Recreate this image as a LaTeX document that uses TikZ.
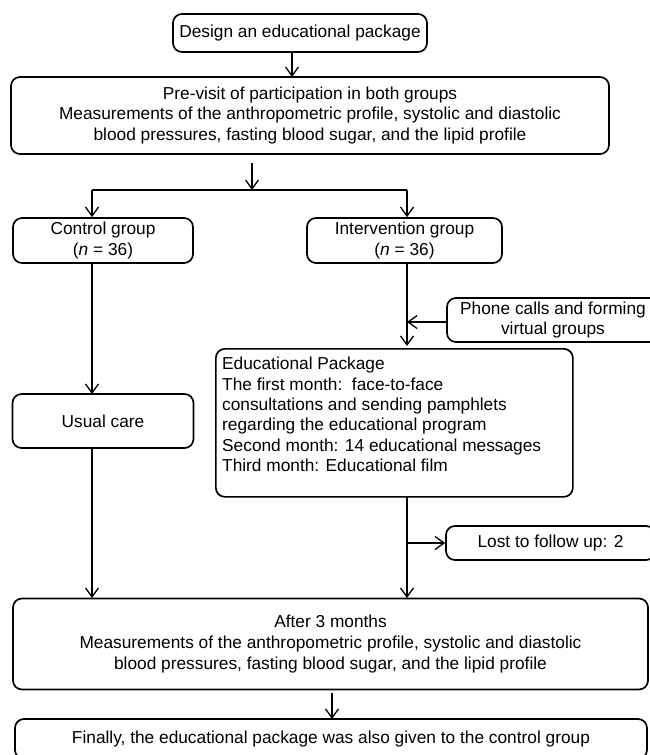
\documentclass[tikz,border=0pt]{standalone}
\usepackage{fontspec}
\setmainfont{Liberation Sans}
\usetikzlibrary{arrows.meta}
\begin{document}
\begin{tikzpicture}[x=1pt,y=-1pt,
  box/.style={draw, line width=1.7pt, rounded corners=9pt, inner sep=0pt, align=center,
    font=\fontsize{17.3}{20.6}\selectfont},
  arr/.style={line width=1.3pt, -{Straight Barb[length=9pt,width=13pt,line width=1.3pt]}},
  ln/.style={line width=1.3pt}]
\useasboundingbox (0,0) rectangle (650,755);
\node[box, minimum width=254pt, minimum height=38pt] (design) at (300,33) {Design an educational package};
\node[box, minimum width=598pt, minimum height=77pt] (pre) at (310,115.5) {Pre-visit of participation in both groups\\Measurements of the anthropometric profile, systolic and diastolic\\blood pressures, fasting blood sugar, and the lipid profile};
\node[box, minimum width=180pt, minimum height=45pt, font=\fontsize{17.3}{21.5}\selectfont] (control) at (103,240.5) {Control group\\(\textit{n} = 36)};
\node[box, minimum width=195pt, minimum height=45pt, font=\fontsize{17.3}{21.5}\selectfont] (interv) at (404.5,240.5) {Intervention group\\(\textit{n} = 36)};
\node[box, minimum width=181pt, minimum height=54pt] (usual) at (103,421) {Usual care};
\node[box, minimum width=212pt, minimum height=44pt] (phone) at (553,320) {Phone calls and forming\\virtual groups};
\node[box, minimum width=357pt, minimum height=148pt, anchor=north west] (edu) at (215,348) {};
\node[anchor=north west, align=left, inner sep=0pt, font=\fontsize{17.3}{20.4}\selectfont] (edutext) at (222,357) {Educational Package\\The first month:\ \ face-to-face\\consultations and sending pamphlets\\regarding the educational program\\Second month: 14 educational messages\\Third month: Educational film};
\node[box, minimum width=209pt, minimum height=34pt] (lost) at (550.5,543) {Lost to follow up: 2};
\node[box, minimum width=635pt, minimum height=91pt] (after) at (330.5,644) {After 3 months\\Measurements of the anthropometric profile, systolic and diastolic\\blood pressures, fasting blood sugar, and the lipid profile};
\node[box, minimum width=632pt, minimum height=40pt] (final) at (331,739) {Finally, the educational package was also given to the control group};
% coordinates
\coordinate (d1) at (292,52);
\coordinate (d2) at (292,77);
\coordinate (s1) at (252,163);
\coordinate (s2) at (252,190);
\coordinate (sl) at (92,190);
\coordinate (sr) at (407,190);
\coordinate (cb) at (92,263);
\coordinate (ut) at (92,394);
\coordinate (ub) at (92,448);
\coordinate (al) at (92,598);
\coordinate (ib) at (407,263);
\coordinate (et) at (407,346);
\coordinate (pj) at (407,322);
\coordinate (eb) at (407,496);
\coordinate (lj) at (407,543);
\coordinate (ar) at (407,598);
\coordinate (a1) at (332,693);
\coordinate (a2) at (332,719);
% connectors
\draw[arr] (d1) -- (d2);
\draw[arr] (s1) -- (s2);
\draw[ln] (sl) -- (sr);
\draw[arr] (sl) -- (control.north -| sl);
\draw[arr] (sr) -- (interv.north -| sr);
\draw[arr] (cb) -- (ut);
\draw[arr] (ub) -- (al);
\draw[arr] (ib) -- (et);
\draw[arr] (phone.west |- pj) -- (pj);
\draw[arr] (eb) -- (ar);
\draw[arr] (lj) -- (lost.west |- lj);
\draw[arr] (a1) -- (a2);
\end{tikzpicture}
\end{document}
